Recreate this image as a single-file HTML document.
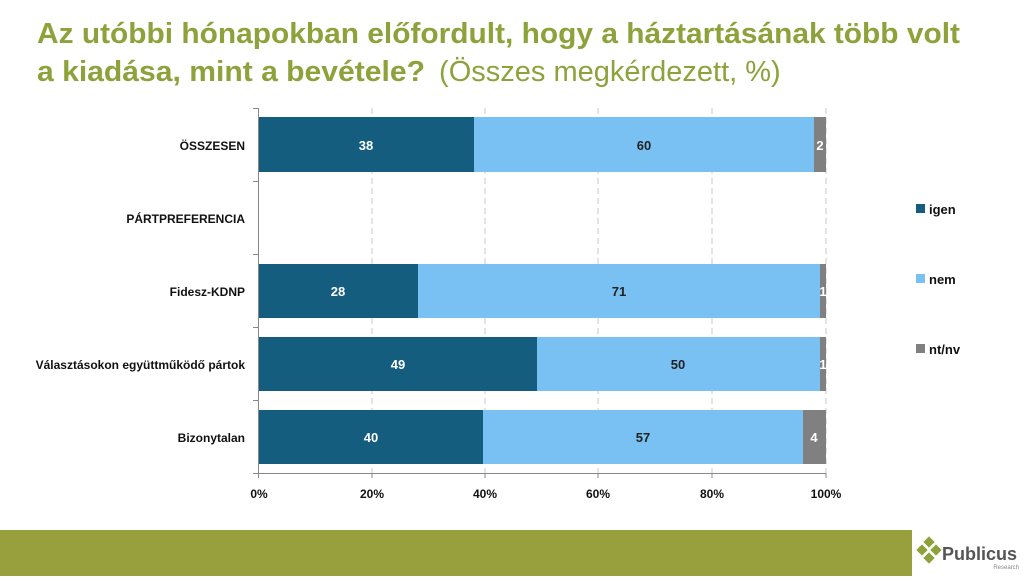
<!DOCTYPE html>
<html><head><meta charset="utf-8"><style>
body{margin:0;width:1024px;height:576px;overflow:hidden;background:#fff;font-family:"Liberation Sans",sans-serif}
</style></head><body>
<svg width="1024" height="576" xmlns="http://www.w3.org/2000/svg" font-family="Liberation Sans, sans-serif">
<text x="37" y="43" font-size="29" font-weight="bold" fill="#8da23a" textLength="923" lengthAdjust="spacingAndGlyphs">Az utóbbi hónapokban előfordult, hogy a háztartásának több volt</text>
<text x="37" y="81" font-size="29" fill="#8da23a"><tspan font-weight="bold" textLength="388" lengthAdjust="spacingAndGlyphs">a kiadása, mint a bevétele?</tspan><tspan dx="6"> (Összes megkérdezett, %)</tspan></text>
<g stroke="#c8c8c8" stroke-dasharray="6,4" stroke-width="1">
<line x1="372" y1="108" x2="372" y2="473"/><line x1="485" y1="108" x2="485" y2="473"/><line x1="598" y1="108" x2="598" y2="473"/><line x1="712" y1="108" x2="712" y2="473"/><line x1="826" y1="108" x2="826" y2="473"/>
</g>
<g stroke="#888" stroke-width="1">
<line x1="258.5" y1="108" x2="258.5" y2="473"/><line x1="258" y1="473.5" x2="826" y2="473.5"/>
<line x1="253" y1="108.5" x2="258" y2="108.5"/><line x1="253" y1="181.5" x2="258" y2="181.5"/><line x1="253" y1="254.5" x2="258" y2="254.5"/><line x1="253" y1="327.5" x2="258" y2="327.5"/><line x1="253" y1="400.5" x2="258" y2="400.5"/><line x1="253" y1="473.5" x2="258" y2="473.5"/>
<line x1="258.5" y1="473" x2="258.5" y2="478"/><line x1="372" y1="473" x2="372" y2="478"/><line x1="485" y1="473" x2="485" y2="478"/><line x1="598" y1="473" x2="598" y2="478"/><line x1="712" y1="473" x2="712" y2="478"/><line x1="826" y1="473" x2="826" y2="478"/>
</g>
<g>
<rect x="259" y="117" width="215" height="55" fill="#155d7e"/><rect x="474" y="117" width="340" height="55" fill="#79c1f2"/><rect x="814" y="117" width="12" height="55" fill="#808080"/>
<rect x="259" y="264" width="159" height="54" fill="#155d7e"/><rect x="418" y="264" width="402" height="54" fill="#79c1f2"/><rect x="820" y="264" width="6" height="54" fill="#808080"/>
<rect x="259" y="337" width="278" height="54" fill="#155d7e"/><rect x="537" y="337" width="283" height="54" fill="#79c1f2"/><rect x="820" y="337" width="6" height="54" fill="#808080"/>
<rect x="259" y="410" width="224" height="54" fill="#155d7e"/><rect x="483" y="410" width="320" height="54" fill="#79c1f2"/><rect x="803" y="410" width="23" height="54" fill="#808080"/>
</g>
<g font-size="13" font-weight="bold" text-anchor="middle">
<text x="366" y="150" fill="#fff">38</text><text x="644" y="150" fill="#222">60</text><text x="820" y="150" fill="#fff">2</text>
<text x="338" y="296" fill="#fff">28</text><text x="619" y="296" fill="#222">71</text><text x="823" y="296" fill="#fff">1</text>
<text x="398" y="369" fill="#fff">49</text><text x="678" y="369" fill="#222">50</text><text x="823" y="369" fill="#fff">1</text>
<text x="371" y="442" fill="#fff">40</text><text x="643" y="442" fill="#222">57</text><text x="814" y="442" fill="#fff">4</text>
</g>
<g font-size="12" font-weight="bold" text-anchor="end" fill="#111">
<text x="245" y="150">ÖSSZESEN</text>
<text x="245" y="223">PÁRTPREFERENCIA</text>
<text x="245" y="296">Fidesz-KDNP</text>
<text x="245" y="369">Választásokon együttműködő pártok</text>
<text x="245" y="442">Bizonytalan</text>
</g>
<g font-size="12" font-weight="bold" text-anchor="middle" fill="#111">
<text x="259" y="498">0%</text><text x="372" y="498">20%</text><text x="485" y="498">40%</text><text x="598" y="498">60%</text><text x="712" y="498">80%</text><text x="826" y="498">100%</text>
</g>
<g font-size="13" font-weight="bold" fill="#111">
<rect x="916" y="204" width="9" height="9" fill="#155d7e"/><text x="929" y="214">igen</text>
<rect x="916" y="274" width="9" height="9" fill="#79c1f2"/><text x="929" y="284">nem</text>
<rect x="916" y="344" width="9" height="9" fill="#808080"/><text x="929" y="354">nt/nv</text>
</g>
<rect x="0" y="530" width="912" height="46" fill="#97a03c"/>
<g fill="#8da23a">
<rect x="925" y="538" width="8" height="8" transform="rotate(45 929 542)"/>
<rect x="918" y="546" width="8" height="8" transform="rotate(45 922 550)"/>
<rect x="932" y="546" width="8" height="8" transform="rotate(45 936 550)"/>
<rect x="925" y="554" width="8" height="8" transform="rotate(45 929 558)"/>
</g>
<text x="942" y="560" font-size="18" font-weight="bold" fill="#555">Publicus</text>
<text x="1019" y="569" font-size="6" fill="#888" text-anchor="end">Research</text>
</svg>
</body></html>
